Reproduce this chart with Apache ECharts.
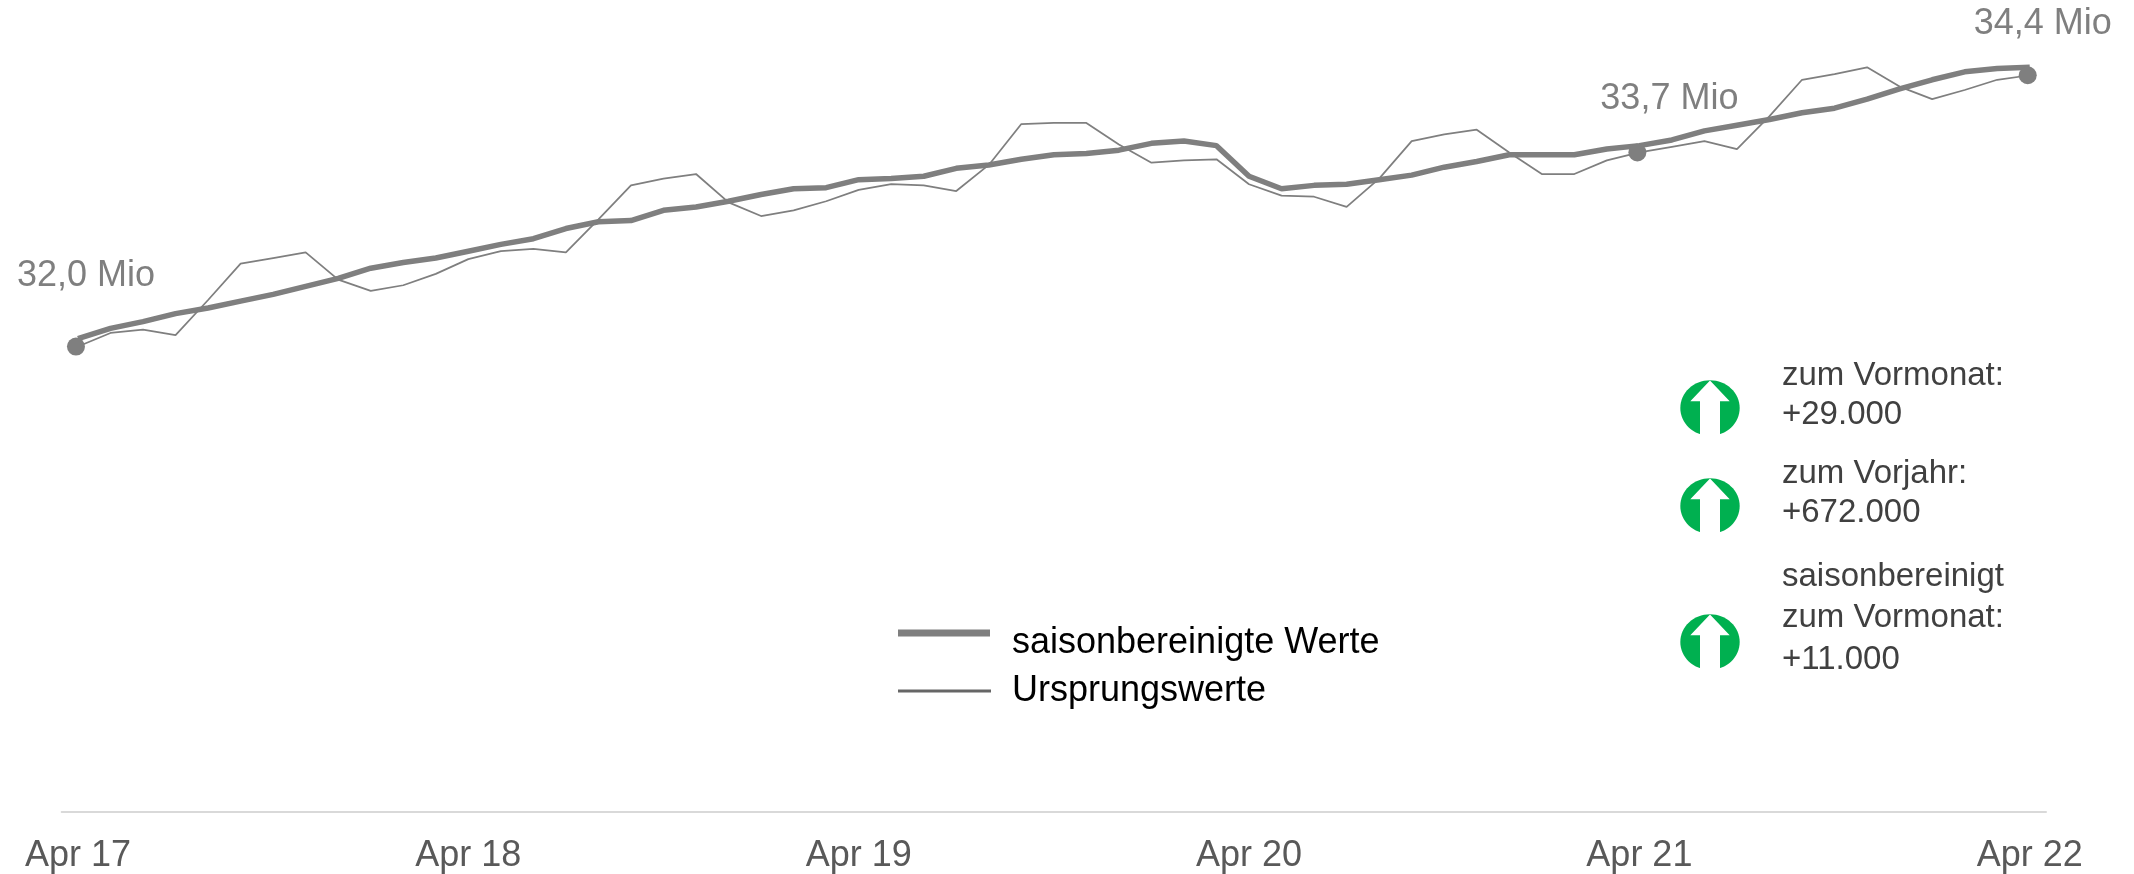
<!DOCTYPE html>
<html lang="de">
<head>
    <meta charset="utf-8">
    <title>Erwerbstaetige Apr 17 - Apr 22</title>
    <style>
        html, body { margin: 0; padding: 0; background: #fff; }
        #main { width: 2134px; height: 874px; }
    </style>
</head>
<body>
    <div id="main"></div>
    <script src="https://cdn.jsdelivr.net/npm/echarts@6/dist/echarts.min.js"></script>
    <script>
        // Monate Apr 17 bis Apr 22
        var categories = [
            'Apr 17','Mai 17','Jun 17','Jul 17','Aug 17','Sep 17','Okt 17','Nov 17','Dez 17','Jan 18','Feb 18','Mrz 18',
            'Apr 18','Mai 18','Jun 18','Jul 18','Aug 18','Sep 18','Okt 18','Nov 18','Dez 18','Jan 19','Feb 19','Mrz 19',
            'Apr 19','Mai 19','Jun 19','Jul 19','Aug 19','Sep 19','Okt 19','Nov 19','Dez 19','Jan 20','Feb 20','Mrz 20',
            'Apr 20','Mai 20','Jun 20','Jul 20','Aug 20','Sep 20','Okt 20','Nov 20','Dez 20','Jan 21','Feb 21','Mrz 21',
            'Apr 21','Mai 21','Jun 21','Jul 21','Aug 21','Sep 21','Okt 21','Nov 21','Dez 21','Jan 22','Feb 22','Mrz 22',
            'Apr 22'
        ];
        // Werte in Mio
        var saisonbereinigt = [
            32.07,32.16,32.22,32.29,32.34,32.40,32.46,32.53,32.60,32.69,32.74,32.78,
            32.84,32.90,32.95,33.04,33.10,33.11,33.20,33.23,33.28,33.34,33.39,33.40,
            33.47,33.48,33.50,33.57,33.60,33.65,33.69,33.70,33.73,33.79,33.81,33.77,
            33.50,33.39,33.42,33.43,33.47,33.51,33.58,33.63,33.69,33.69,33.69,33.74,
            33.77,33.82,33.90,33.95,34.00,34.06,34.10,34.18,34.27,34.35,34.42,34.45,
            34.46
        ];
        var ursprung = [
            32.00,32.12,32.15,32.10,32.41,32.73,32.78,32.83,32.59,32.49,32.54,32.64,
            32.77,32.84,32.86,32.83,33.12,33.42,33.48,33.52,33.27,33.15,33.20,33.28,
            33.38,33.43,33.42,33.37,33.60,33.96,33.97,33.97,33.78,33.62,33.64,33.65,
            33.43,33.33,33.32,33.23,33.48,33.81,33.87,33.91,33.71,33.52,33.52,33.64,
            33.71,33.76,33.81,33.74,34.03,34.35,34.40,34.46,34.29,34.18,34.26,34.35,
            34.39
        ];
        var markedIndex = [0, 48, 60];
        var markedText = ['32,0 Mio', '33,7 Mio', '34,4 Mio'];
        var markedOffset = [[10, -70], [32, -53], [15, -51]];

        var legendNames = ['saisonbereinigte Werte', 'Ursprungswerte'];
        var infoLines = [
            ['zum Vormonat:', 376], ['+29.000', 415],
            ['zum Vorjahr:', 474], ['+672.000', 513],
            ['saisonbereinigt', 577], ['zum Vormonat:', 618], ['+11.000', 660]
        ];
        var arrowY = [408, 506, 642];

        var FONT = '"Liberation Sans", Arial, sans-serif';
        var GREY = '#7f7f7f';

        //-- Ursprungswerte mit drei markierten Punkten
        var ursprungData = ursprung.map(function (v, i) {
            var k = markedIndex.indexOf(i);
            if (k < 0) return v;
            return {
                value: v,
                symbol: 'circle',
                symbolSize: 18,
                symbolOffset: [-2, 0],
                itemStyle: { color: GREY },
                label: {
                    show: true,
                    position: 'inside',
                    offset: markedOffset[k],
                    formatter: markedText[k],
                    color: GREY,
                    fontSize: 36,
                    fontFamily: FONT
                }
            };
        });

        //-- Legende und Infoblock rechts
        var graphics = [
            { type: 'rect', shape: { x: 898, y: 629.5, width: 92, height: 7 }, style: { fill: GREY } },
            { type: 'rect', shape: { x: 898, y: 689.5, width: 93, height: 3 }, style: { fill: '#666666' } },
            { type: 'text', x: 1012, y: 643, style: { text: legendNames[0], fill: '#000', font: '36px ' + FONT, verticalAlign: 'middle' } },
            { type: 'text', x: 1012, y: 691, style: { text: legendNames[1], fill: '#000', font: '36px ' + FONT, verticalAlign: 'middle' } }
        ];
        infoLines.forEach(function (l) {
            graphics.push({ type: 'text', x: 1782, y: l[1], style: { text: l[0], fill: '#404040', font: '33px ' + FONT, verticalAlign: 'middle' } });
        });
        arrowY.forEach(function (y) {
            graphics.push({ type: 'ellipse', shape: { cx: 1710, cy: y, rx: 29.7, ry: 27.8 }, style: { fill: '#00b050' } });
            graphics.push({
                type: 'polygon',
                x: 1710, y: y,
                shape: { points: [[0, -27.5], [19.7, -6.7], [10, -6.7], [10, 29], [-10, 29], [-10, -6.7], [-19.7, -6.7]] },
                style: { fill: '#fff' }
            });
        });

        var chart = echarts.init(document.getElementById('main'), null, { renderer: 'canvas' });
        chart.setOption({
            animation: false,
            grid: { left: 61.7, right: 88, top: 6, height: 807 },
            xAxis: {
                type: 'category',
                data: categories,
                axisLine: { lineStyle: { color: '#d9d9d9', width: 2 } },
                axisTick: { show: false },
                axisLabel: { interval: 11, color: '#595959', fontSize: 36, fontFamily: FONT, margin: 26 }
            },
            yAxis: { type: 'value', min: 27.9, max: 35, show: false, splitLine: { show: false } },
            series: [{
                name: legendNames[1],
                type: 'line',
                data: ursprungData,
                symbol: 'none',
                showAllSymbol: true,
                clip: false,
                lineStyle: { color: GREY, width: 1.75 }
            }, {
                name: legendNames[0],
                type: 'line',
                data: saisonbereinigt,
                symbol: 'none',
                clip: false,
                lineStyle: { color: GREY, width: 5.5 }
            }],
            graphic: graphics
        });
    </script>
</body>
</html>
